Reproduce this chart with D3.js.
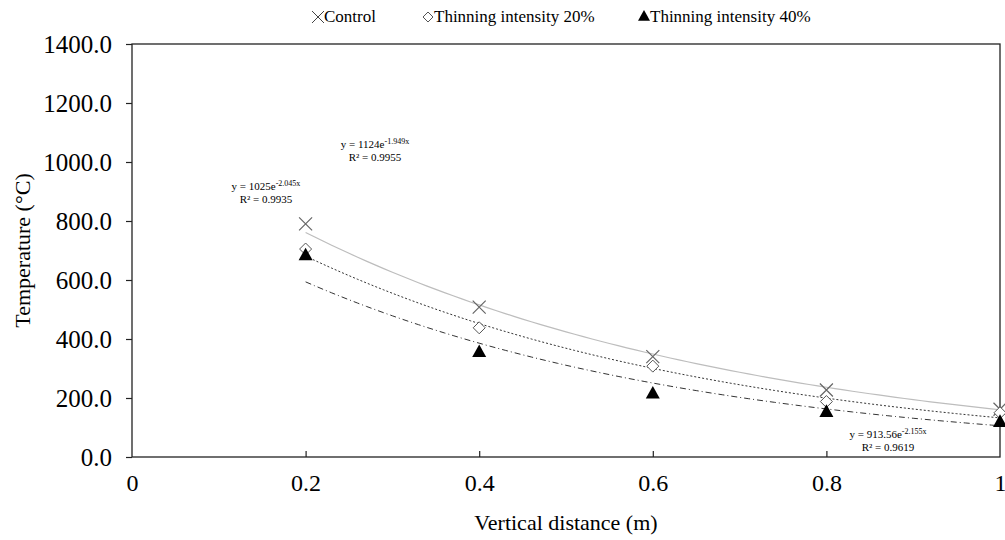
<!DOCTYPE html>
<html>
<head>
<meta charset="utf-8">
<script src="https://cdn.jsdelivr.net/npm/d3@7"></script>
<style>
  body { margin: 0; background: #fff; }
</style>
</head>
<body>
<div id="chart"></div>
<script>
// data
const distances = [0.2, 0.4, 0.6, 0.8, 1.0]
const control = [790, 508, 340, 227, 162]
const thin20 = [705, 438, 308, 188, 150]
const thin40 = [686, 358, 217, 155, 121]

const seriesNames = ["Control", "Thinning intensity 20%", "Thinning intensity 40%"]
// trendline coefficients y = a * e^(b x), as printed on the chart
const trendA = [1124, 1025, 913.56]
const trendB = [-1.949, -2.045, -2.155]
const trendLabels = ["y = 1124e", "y = 1025e", "y = 913.56e"]
const trendExp = ["-1.949x", "-2.045x", "-2.155x"]
const trendR2 = ["R² = 0.9955", "R² = 0.9935", "R² = 0.9619"]

const yTicks = [0, 200, 400, 600, 800, 1000, 1200, 1400]
const xTicks = [0, 0.2, 0.4, 0.6, 0.8, 1]

const serif = "'Liberation Serif', 'Times New Roman', Times, serif"

const width = 1005
const height = 540
const margin = {top: 44, right: 5, bottom: 83, left: 132}

const svg = d3.select("#chart")
    .append("svg")
    .attr("width", width)
    .attr("height", height)
    .attr("font-family", serif)

const x = d3.scaleLinear()
    .domain([0, 1])
    .range([margin.left, width - margin.right])

const y = d3.scaleLinear()
    .domain([0, 1400])
    .range([height - margin.bottom, margin.top])

// frame
svg.append("rect")
    .attr("x", x(0))
    .attr("y", y(1400))
    .attr("width", x(1) - x(0))
    .attr("height", y(0) - y(1400))
    .attr("fill", "none")
    .attr("stroke", "#222")
    .attr("stroke-width", 1.3)

// y axis, ticks outward
const yAxis = svg.append("g")
    .attr("transform", `translate(${x(0)},0)`)
    .call(d3.axisLeft(y).tickValues(yTicks).tickSize(6).tickPadding(14).tickFormat(d3.format(".1f")))
yAxis.attr("font-family", serif)
yAxis.select(".domain").remove()
yAxis.selectAll("line").attr("stroke", "#222").attr("stroke-width", 1.2)
yAxis.selectAll("text").style("font-size", "25px").style("font-family", serif).attr("dy", "0.35em")

// x axis, ticks inward
const xAxis = svg.append("g")
    .attr("transform", `translate(0,${y(0)})`)
    .call(d3.axisBottom(x).tickValues(xTicks).tickSize(-6).tickPadding(17).tickFormat(d3.format("")))
xAxis.attr("font-family", serif)
xAxis.select(".domain").remove()
xAxis.selectAll("line").attr("stroke", "#222").attr("stroke-width", 1.2)
xAxis.selectAll("line").filter(d => d === 0 || d === 1).remove()
xAxis.selectAll("text").style("font-size", "24px").style("font-family", serif)

// axis titles
svg.append("text")
    .attr("transform", `translate(30,${(y(0) + y(1400)) / 2}) rotate(-90)`)
    .attr("text-anchor", "middle")
    .style("font-size", "22px")
    .style("font-family", serif)
    .text("Temperature (°C)")

svg.append("text")
    .attr("x", (x(0) + x(1)) / 2)
    .attr("y", 530)
    .attr("text-anchor", "middle")
    .style("font-size", "22px")
    .style("font-family", serif)
    .text("Vertical distance (m)")

// trendlines
const trendStyles = [
    {stroke: "#bdbdbd", dash: null, w: 1.2},
    {stroke: "#333", dash: "2,2", w: 1},
    {stroke: "#333", dash: "6,3,1,3", w: 1}
]
const curveXs = d3.range(0.2, 1.0001, 0.01)
const line = d3.line().x(d => x(d[0])).y(d => y(d[1]))
trendA.forEach((a, i) => {
    const pts = curveXs.map(v => [v, a * Math.exp(trendB[i] * v)])
    svg.append("path")
        .datum(pts)
        .attr("d", line)
        .attr("fill", "none")
        .attr("stroke", trendStyles[i].stroke)
        .attr("stroke-width", trendStyles[i].w)
        .attr("stroke-dasharray", trendStyles[i].dash)
})

// markers
const xMark = (g, cx, cy, s) => {
    g.append("path")
        .attr("d", `M${cx - s},${cy - s}L${cx + s},${cy + s}M${cx - s},${cy + s}L${cx + s},${cy - s}`)
        .attr("stroke", "#666").attr("stroke-width", 1.2).attr("fill", "none")
}
const diamond = (g, cx, cy, s) => {
    g.append("path")
        .attr("d", `M${cx},${cy - s}L${cx + s},${cy}L${cx},${cy + s}L${cx - s},${cy}Z`)
        .attr("stroke", "#555").attr("stroke-width", 1).attr("fill", "#fff")
}
const triangle = (g, cx, cy, s) => {
    g.append("path")
        .attr("d", `M${cx},${cy - s}L${cx + s},${cy + s * 0.8}L${cx - s},${cy + s * 0.8}Z`)
        .attr("fill", "#000")
}

const marks = svg.append("g")
distances.forEach((d, i) => {
    xMark(marks, x(d), y(control[i]), 6.5)
})
distances.forEach((d, i) => {
    diamond(marks, x(d), y(thin20[i]), 6)
})
distances.forEach((d, i) => {
    triangle(marks, x(d), y(thin40[i]), 7)
})

// trend equations
const eqPos = [[375, 148], [266, 190], [888, 438]]
eqPos.forEach((p, i) => {
    const t = svg.append("text")
        .attr("x", p[0])
        .attr("y", p[1])
        .attr("text-anchor", "middle")
        .style("font-size", "11px")
        .style("font-family", serif)
    t.append("tspan").text(trendLabels[i])
    t.append("tspan").attr("dy", -4).style("font-size", "8px").text(trendExp[i])
    svg.append("text")
        .attr("x", p[0])
        .attr("y", p[1] + 13)
        .attr("text-anchor", "middle")
        .style("font-size", "11px")
        .style("font-family", serif)
        .text(trendR2[i])
})

// legend
const legendX = [318, 428, 644]
const legend = svg.append("g")
seriesNames.forEach((name, i) => {
    const cx = legendX[i]
    const cy = 17
    if (i === 0) {
        legend.append("path")
            .attr("d", `M${cx - 6},${cy - 6}L${cx + 6},${cy + 6}M${cx - 6},${cy + 6}L${cx + 6},${cy - 6}`)
            .attr("stroke", "#444").attr("stroke-width", 1)
    } else if (i === 1) {
        diamond(legend, cx, cy, 5)
    } else {
        triangle(legend, cx, cy - 1, 6)
    }
    legend.append("text")
        .attr("x", cx + 6)
        .attr("y", cy + 5)
        .style("font-size", "17px")
        .style("font-family", serif)
        .text(name)
})
</script>
</body>
</html>
